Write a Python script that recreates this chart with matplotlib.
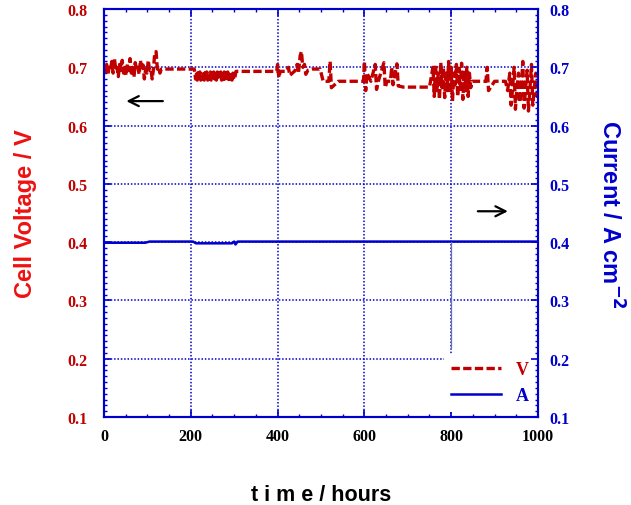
import numpy as np
import matplotlib.pyplot as plt
from matplotlib.ticker import MultipleLocator

# cell voltage trace (hours, V)
t_volt = [
    0, 3, 6, 9, 12, 15, 18, 21, 24, 27, 30, 33, 36, 39, 42, 45, 48, 51, 54, 57,
    60, 63, 66, 69, 72, 75, 78, 81, 84, 87, 90, 93, 96, 99, 102, 105, 108, 111,
    114, 117, 120, 123, 126, 129, 132,
    150, 180, 208,
    211, 213, 215, 217, 219, 221, 223, 225, 227, 229, 231, 233, 235, 237, 239,
    241, 243, 245, 247, 249, 251, 253, 255, 257, 259, 261, 263, 265, 267, 269,
    271, 273, 275, 277, 279, 281, 283, 285, 287, 289, 291, 293, 295, 297, 299,
    301, 304,
    320, 350, 380, 398,
    400, 403, 406, 420, 425, 428, 440, 445, 448, 452, 455, 458, 462, 465, 470,
    480, 498,
    505, 518, 521, 524, 540, 560, 580, 598,
    600, 603, 606, 615, 625, 628, 632, 645, 648, 652, 660, 663, 666, 675, 678,
    690, 720, 750,
    758, 761, 764, 767, 770, 773, 776, 779, 782, 785, 788, 791, 794, 797, 800,
    803, 806, 809, 812, 815, 818, 821, 824, 827, 830, 833, 836, 839, 842, 845, 848,
    855, 870, 880, 883, 886, 900, 925,
    930, 935, 938, 941, 945, 948, 951, 955, 958, 961, 965, 968, 971, 975, 978,
    981, 985, 988, 991, 995, 998, 1000,
]
volt = [
    0.700, 0.692, 0.705, 0.688, 0.700, 0.695, 0.710, 0.690, 0.716, 0.695, 0.700,
    0.684, 0.705, 0.695, 0.712, 0.690, 0.700, 0.686, 0.706, 0.695, 0.715, 0.690,
    0.700, 0.683, 0.708, 0.695, 0.700, 0.688, 0.712, 0.695, 0.704, 0.680, 0.697,
    0.690, 0.712, 0.695, 0.697, 0.680, 0.697, 0.725, 0.727, 0.697, 0.700, 0.690,
    0.697,
    0.697, 0.697, 0.697,
    0.680, 0.692, 0.678, 0.691, 0.679, 0.692, 0.678, 0.690, 0.680, 0.692, 0.678,
    0.691, 0.679, 0.692, 0.678, 0.690, 0.680, 0.692, 0.678, 0.691, 0.679, 0.692,
    0.680, 0.691, 0.678, 0.692, 0.679, 0.690, 0.680, 0.692, 0.678, 0.691, 0.679,
    0.692, 0.680, 0.690, 0.678, 0.692, 0.679, 0.691, 0.680, 0.692, 0.678, 0.690,
    0.679, 0.680, 0.693,
    0.693, 0.693, 0.693, 0.693,
    0.705, 0.682, 0.693, 0.693, 0.700, 0.686, 0.694, 0.705, 0.690, 0.720, 0.727,
    0.700, 0.705, 0.688, 0.695,
    0.697, 0.697,
    0.676, 0.676, 0.710, 0.665, 0.676, 0.676, 0.676, 0.676,
    0.710, 0.660, 0.690, 0.676, 0.705, 0.662, 0.676, 0.708, 0.665, 0.676, 0.676,
    0.700, 0.670, 0.706, 0.668,
    0.666, 0.666, 0.666,
    0.700, 0.650, 0.705, 0.660, 0.690, 0.645, 0.708, 0.665, 0.700, 0.648, 0.695,
    0.660, 0.710, 0.655, 0.700, 0.642, 0.690, 0.670, 0.705, 0.650, 0.698, 0.662,
    0.707, 0.645, 0.695, 0.660, 0.700, 0.650, 0.690, 0.665, 0.676,
    0.676, 0.676, 0.676, 0.700, 0.660, 0.676, 0.676,
    0.660, 0.690, 0.635, 0.660, 0.700, 0.628, 0.660, 0.690, 0.640, 0.660, 0.710,
    0.630, 0.660, 0.695, 0.625, 0.660, 0.705, 0.635, 0.660, 0.690, 0.650, 0.660,
]

# current density trace (hours, A cm-2)
t_curr = [0, 95, 105, 205, 212, 295, 300, 303, 308, 1000]
curr = [0.399, 0.399, 0.401, 0.401, 0.398, 0.398, 0.401, 0.396, 0.401, 0.401]
# short current drop near 800 h
t_drop = [800, 800]
curr_drop = [0.401, 0.22]

red = '#c00000'
blue = '#0000cc'

fig = plt.figure(figsize=(6.31, 5.06), dpi=100)
ax = fig.add_axes([0.1648, 0.1739, 0.6878, 0.8063])
ax2 = ax.twinx()

ax.set_xlim(0, 1000)
ax.set_ylim(0.1, 0.8)
ax2.set_ylim(0.1, 0.8)

lv, = ax.plot(t_volt, volt, linestyle='--', color=red, linewidth=2.4, dashes=(2.5, 1))
la, = ax.plot(t_curr, curr, linestyle='-', color=blue, linewidth=1.8)
ax.plot(t_drop, curr_drop, linestyle='-', color='#6670b0', linewidth=0.9)

ax.grid(True, color=blue, linestyle=(0, (1, 1.2)), linewidth=1.1)

ax.xaxis.set_major_locator(MultipleLocator(200))
ax.xaxis.set_minor_locator(MultipleLocator(50))
for a in (ax, ax2):
    a.yaxis.set_major_locator(MultipleLocator(0.1))
    a.yaxis.set_minor_locator(MultipleLocator(0.01))
    for s in a.spines.values():
        s.set_color(blue)
        s.set_linewidth(1.5)

serif = {'family': 'Liberation Serif', 'weight': 'bold', 'size': 11.5}
ax.tick_params(axis='both', which='both', direction='in', color=blue, top=True)
ax.tick_params(which='major', length=5, width=1.2)
ax.tick_params(which='minor', length=2.5, width=1)
ax2.tick_params(axis='y', which='both', direction='in', color=blue)
ax2.tick_params(which='major', length=5, width=1.2)
ax2.tick_params(which='minor', length=2.5, width=1)
ax.tick_params(axis='y', labelcolor=red, pad=12)
ax2.tick_params(axis='y', labelcolor=blue, pad=8)
ax.tick_params(axis='x', labelcolor='black', pad=8)
for lab in ax.get_xticklabels() + ax.get_yticklabels() + ax2.get_yticklabels():
    lab.set_fontproperties(serif)
ax.set_xticks([0, 200, 400, 600, 800, 1000])
ax.set_xticklabels(['0', '200', '400', '600', '800', '1000'], fontdict=serif)

ysans = {'family': 'Liberation Sans', 'weight': 'bold', 'size': 17}
ax.set_ylabel('Cell Voltage / V', color='#ee1111', fontdict=ysans, labelpad=22)
ax2.set_ylabel('Current / A cm$^{\\mathbf{-2}}$', color=blue, fontdict=ysans,
               rotation=270, labelpad=39)
xsans = {'family': 'Liberation Sans', 'weight': 'bold', 'size': 15.5}
ax.set_xlabel('t i m e / hours', color='black', fontdict=xsans, labelpad=29)

ax.annotate('', xy=(45, 0.642), xytext=(142, 0.642),
            arrowprops=dict(arrowstyle='->', color='black', lw=1.6, mutation_scale=18))
ax.annotate('', xy=(937, 0.453), xytext=(855, 0.453),
            arrowprops=dict(arrowstyle='->', color='black', lw=1.6, mutation_scale=18))

leg = ax.legend([lv, la], ['V', 'A'], loc='lower right',
                bbox_to_anchor=(1.008, 0.0), frameon=True, fancybox=False,
                edgecolor='none', facecolor='white', framealpha=1,
                prop={'family': 'Liberation Serif', 'weight': 'bold', 'size': 13},
                handlelength=2.8, labelspacing=0.5, borderaxespad=0.3)
for txt, c in zip(leg.get_texts(), [red, blue]):
    txt.set_color(c)

fig.savefig('out.png', dpi=100)
